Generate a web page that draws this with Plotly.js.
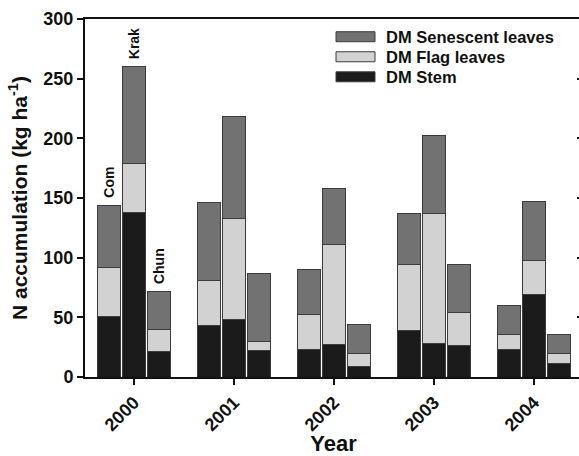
<!DOCTYPE html>
<html>
<head>
<meta charset="utf-8">
<script src="https://cdn.plot.ly/plotly-3.0.1.min.js"></script>
<style>
html,body{margin:0;padding:0;background:#fff;overflow:hidden;}
#chart{width:584px;height:456px;}
</style>
</head>
<body>
<div id="chart"></div>
<script>
// ---- data (kg N ha-1) ----
const years = ['2000', '2001', '2002', '2003', '2004'];
const varieties = ['Com', 'Krak', 'Chun'];
// per variety, per year
const stemCom  = [51, 43, 23, 39, 23];
const stemKrak = [138, 48, 27, 28, 69];
const stemChun = [21, 22, 9, 26, 11];
const flagCom  = [41, 38, 29, 55, 13];
const flagKrak = [41, 85, 84, 109, 29];
const flagChun = [19, 8, 11, 28, 9];
const senCom   = [52, 65, 38, 43, 24];
const senKrak  = [81, 85, 47, 65, 49];
const senChun  = [32, 57, 24, 40, 16];
const seriesNames = ['DM Stem', 'DM Flag leaves', 'DM Senescent leaves'];

// ---- styling ----
const colors = ['#1b1b1b', '#d2d2d2', '#727272'];
const outline = '#3c3c3c';
const font = 'Liberation Sans, Arial, Helvetica, sans-serif';
const offsets = [-0.25, 0, 0.25];
const barWidth = 0.225;

const components = [
  [stemCom, stemKrak, stemChun],
  [flagCom, flagKrak, flagChun],
  [senCom, senKrak, senChun]
];

const traces = [];
components.forEach((comp, ci) => {
  varieties.forEach((v, vi) => {
    traces.push({
      type: 'bar',
      name: seriesNames[ci],
      legendgroup: seriesNames[ci],
      showlegend: false,
      x: years.map((y, i) => i + offsets[vi]),
      y: comp[vi],
      width: barWidth,
      marker: {color: colors[ci], line: {color: outline, width: 1}},
      hovertemplate: v + ' %{y}<extra>' + seriesNames[ci] + '</extra>'
    });
  });
});

// dummy trace for the right-side inner ticks
traces.push({type: 'scatter', x: [0], y: [0], yaxis: 'y2', mode: 'none', showlegend: false, hoverinfo: 'skip'});

// variety labels above the 2000 group
const annotations = varieties.map((v, vi) => {
  const total = components[0][vi][0] + components[1][vi][0] + components[2][vi][0];
  return {
    x: 0 + offsets[vi], y: total, xref: 'x', yref: 'y',
    text: v, textangle: -90, showarrow: false,
    yanchor: 'bottom', xanchor: 'center', yshift: 5,
    font: {family: font, size: 14, color: '#111', weight: 'bold'}
  };
});

// custom legend (wide swatches as in the original)
const L = 85, R = 582, T = 19.3, B = 376.7;
const px = p => (p - L) / (R - L);
const py = p => (B - p) / (B - T);
const legendOrder = [2, 1, 0];
const shapes = [];
legendOrder.forEach((ci, row) => {
  const cy = 37 + row * 20;
  shapes.push({
    type: 'rect', xref: 'paper', yref: 'paper',
    x0: px(336), x1: px(375), y0: py(cy + 5), y1: py(cy - 5),
    fillcolor: colors[ci], line: {color: outline, width: 1}
  });
  annotations.push({
    xref: 'paper', yref: 'paper', x: px(384), y: py(cy),
    xanchor: 'left', yanchor: 'middle', showarrow: false,
    text: seriesNames[ci],
    font: {family: font, size: 16.5, color: '#111', weight: 'bold'}
  });
});

const layout = {
  width: 584, height: 456,
  margin: {l: 85, r: 2, t: 19, b: 79},
  paper_bgcolor: '#fff', plot_bgcolor: '#fff',
  barmode: 'stack',
  showlegend: false,
  font: {family: font, color: '#111', weight: 'bold'},
  xaxis: {
    range: [-0.49, 4.48],
    tickvals: years.map((y, i) => i),
    ticktext: years,
    tickangle: -45,
    ticks: 'outside', ticklen: 6, tickwidth: 2, tickcolor: '#111',
    showline: true, linecolor: '#111', linewidth: 2, mirror: true,
    showgrid: false, zeroline: false,
    tickfont: {family: font, size: 18, color: '#111', weight: 'bold'},
    title: {text: 'Year', standoff: 10, font: {family: font, size: 22, color: '#111', weight: 'bold'}}
  },
  yaxis: {
    range: [0, 300], dtick: 50,
    ticks: 'outside', ticklen: 6, tickwidth: 2, tickcolor: '#111',
    showline: true, linecolor: '#111', linewidth: 2, mirror: true,
    showgrid: false, zeroline: false,
    tickfont: {family: font, size: 18, color: '#111', weight: 'bold'},
    title: {text: 'N accumulation (kg ha<sup>-1</sup>)', standoff: 10,
            font: {family: font, size: 21, color: '#111', weight: 'bold'}}
  },
  yaxis2: {
    overlaying: 'y', side: 'right', range: [0, 300], dtick: 50,
    ticks: 'inside', ticklen: 5, tickwidth: 2, tickcolor: '#111',
    showticklabels: false, showline: false, showgrid: false, zeroline: false
  },
  annotations: annotations,
  shapes: shapes
};

Plotly.newPlot('chart', traces, layout, {staticPlot: true, displayModeBar: false});
</script>
</body>
</html>
